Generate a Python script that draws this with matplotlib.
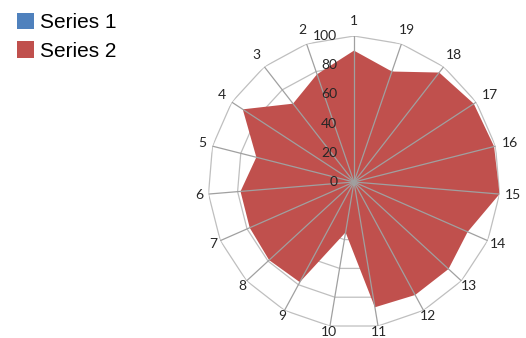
import numpy as np
import matplotlib
matplotlib.use('Agg')
import matplotlib.pyplot as plt
from matplotlib.patches import Patch

# 数据
categories = [str(i) for i in range(1, 20)]
series1 = [0] * 19
series2 = [90, 78, 68, 91, 69, 78, 78, 79, 78, 35, 87, 88, 88, 85, 100, 99, 98, 95, 80]
radial_ticks = [0, 20, 40, 60, 80, 100]

W, H = 526, 338
cx, cy, R = 354, 182, 146   # 圆心和外圈半径(像素)

fig = plt.figure(figsize=(W / 100, H / 100), dpi=100)
fig.set_facecolor('white')
ax = fig.add_axes([(cx - R) / W, (H - cy - R) / H, 2 * R / W, 2 * R / H], projection='polar')
ax.set_theta_zero_location('N')
ax.set_theta_direction(1)
ax.set_ylim(0, 100)
ax.set_axis_off()

theta = np.linspace(0, 2 * np.pi, len(categories), endpoint=False)
theta_closed = np.append(theta, theta[0])

# 多边形网格
for r in radial_ticks[1:]:
    ax.plot(theta_closed, [r] * len(theta_closed), color='#BFBFBF', lw=0.9, zorder=1)

# 两个系列
ax.fill(theta, series1, color='#4F81BD', lw=0, zorder=2)
ax.fill(theta, series2, color='#C0504D', lw=0, zorder=2)

# 轴线
for t in theta:
    ax.plot([t, t], [0, 100], color='#A0A0A0', lw=0.9, zorder=3)

txt = dict(family=['Lato', 'DejaVu Sans'], fontsize=10, color='#262626')

# 刻度标签
for r in radial_ticks:
    ax.annotate(str(r), xy=(0, r), xytext=(-12, 0), textcoords='offset points',
                ha='right', va='center', **txt)

# 类别标签(逆时针排列)
for t, lab in zip(theta, categories):
    dx, dy = -np.sin(t), np.cos(t)
    gap = 4 + 3.5 * dy
    w = 0.58 * 10 * len(lab) / 2
    h = 0.72 * 10 / 2
    ax.annotate(lab, xy=(t, 100), xytext=(dx * (gap + w), dy * (gap + h)),
                textcoords='offset points', ha='center', va='center', **txt)

# 图例
handles = [Patch(facecolor='#4F81BD', edgecolor='none'),
           Patch(facecolor='#C0504D', edgecolor='none')]
fig.legend(handles, ['Series 1', 'Series 2'], loc='upper left',
           bbox_to_anchor=(2 / W, 1 + 2 / H), frameon=False,
           prop={'family': 'Liberation Sans', 'size': 15},
           handlelength=0.85, handleheight=0.85, handletextpad=0.25,
           labelspacing=0.45, borderpad=0.2)

plt.savefig('out.png', dpi=100)
